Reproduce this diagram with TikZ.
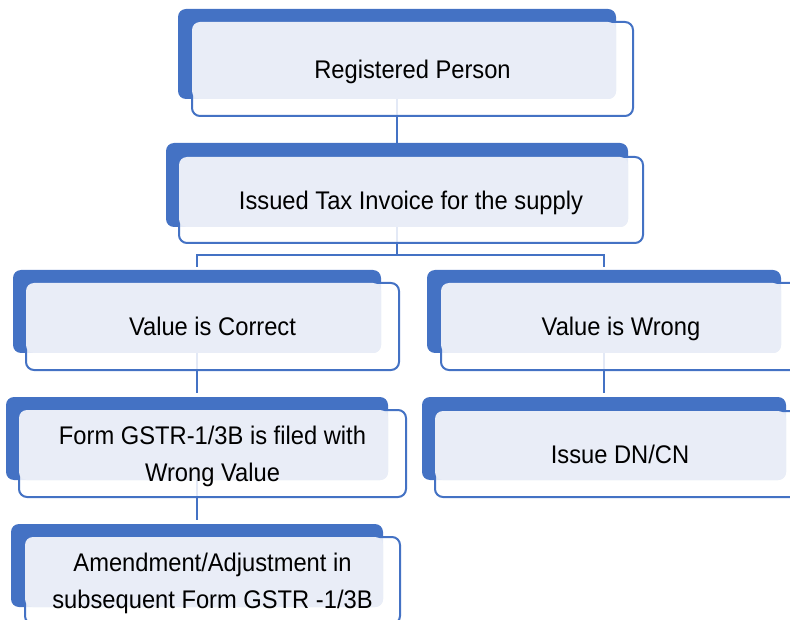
\documentclass[tikz,border=0pt]{standalone}
\usepackage{fontspec}
\setmainfont[FakeStretch=0.93]{Liberation Sans}
\usepackage{tikz}
\usetikzlibrary{positioning}
\definecolor{boxblue}{HTML}{4472C4}
\definecolor{boxfill}{HTML}{E9EDF7}
\tikzstyle{backbox} = [rectangle, rounded corners=8pt, fill=boxblue, inner sep=0pt, outer sep=0pt]
\tikzstyle{frontbox} = [rectangle, rounded corners=8pt, draw=boxblue, line width=2pt, fill=white, fill opacity=0.85, inner sep=0pt, outer sep=0pt, anchor=north west]
\tikzstyle{lightfill} = [fill=boxfill, rounded corners=8pt]
\tikzstyle{label} = [align=center, font=\fontsize{25.5}{37}\selectfont, text=black, yshift=-3pt]
\tikzstyle{oneline} = [label, text height=18.5pt, text depth=5.5pt]
\tikzstyle{conn} = [draw=boxblue, line width=2pt]

\begin{document}
\begin{tikzpicture}[x=1pt, y=-1pt]
                    \path[use as bounding box] (0,0) rectangle (790,620);
                    \clip (0,0) rectangle (790,620);
                    \node [backbox, minimum width=438pt, minimum height=90pt] (rp-b) at (397,54) {};
                    \node [backbox, minimum width=462pt, minimum height=84pt] (inv-b) at (397,185) {};
                    \node [backbox, minimum width=368pt, minimum height=83pt] (vc-b) at (197,311.5) {};
                    \node [backbox, minimum width=354pt, minimum height=83pt] (vw-b) at (604,311.5) {};
                    \node [backbox, minimum width=382pt, minimum height=83pt] (gstr-b) at (197,438.5) {};
                    \node [backbox, minimum width=372pt, minimum height=83pt] (amd-b) at (197,565.5) {};
                    \node [backbox, minimum width=364pt, minimum height=83pt] (dncn-b) at (604,438.5) {};
                    \coordinate (split) at (397,255);
                    \draw [conn] (rp-b.south) -- (inv-b.north);
                    \draw [conn] (inv-b.south) -- (split);
                    \draw [conn, shorten <=3pt] (vc-b.north) |- (split);
                    \draw [conn, shorten >=3pt] (split) -| (vw-b.north);
                    \draw [conn, shorten >=4pt] (vc-b.south) -- (gstr-b.north);
                    \draw [conn, shorten >=4pt] (vw-b.south) -- (dncn-b.north);
                    \draw [conn, shorten >=4pt] (gstr-b.south) -- (amd-b.north);
                    \node [frontbox, minimum width=441pt, minimum height=94pt] (rp) at ([xshift=14pt, yshift=-13pt]rp-b.north west) {};
                    \node [frontbox, minimum width=464pt, minimum height=86pt] (inv) at ([xshift=13pt, yshift=-14pt]inv-b.north west) {};
                    \node [frontbox, minimum width=373pt, minimum height=87pt] (vc) at ([xshift=13pt, yshift=-13pt]vc-b.north west) {};
                    \node [frontbox, minimum width=360pt, minimum height=87pt] (vw) at ([xshift=14pt, yshift=-13pt]vw-b.north west) {};
                    \node [frontbox, minimum width=387pt, minimum height=87pt] (gstr) at ([xshift=13pt, yshift=-13pt]gstr-b.north west) {};
                    \node [frontbox, minimum width=375pt, minimum height=87pt] (amd) at ([xshift=14pt, yshift=-13pt]amd-b.north west) {};
                    \node [frontbox, minimum width=370pt, minimum height=86pt] (dncn) at ([xshift=13pt, yshift=-14pt]dncn-b.north west) {};
                    \fill [lightfill] (rp.north west) rectangle (rp-b.south east);
                    \fill [lightfill] (inv.north west) rectangle (inv-b.south east);
                    \fill [lightfill] (vc.north west) rectangle (vc-b.south east);
                    \fill [lightfill] (vw.north west) rectangle (vw-b.south east);
                    \fill [lightfill] (gstr.north west) rectangle (gstr-b.south east);
                    \fill [lightfill] (amd.north west) rectangle (amd-b.south east);
                    \fill [lightfill] (dncn.north west) rectangle (dncn-b.south east);
                    \node [oneline] (rp-t) at (rp) {Registered Person};
                    \node [oneline] (inv-t) at (inv) {Issued Tax Invoice for the supply};
                    \node [oneline] (vc-t) at (vc) {Value is Correct};
                    \node [oneline] (vw-t) at (vw) {Value is Wrong};
                    \node [label] (gstr-t) at (gstr) {Form GSTR-1/3B is filed with\\Wrong Value};
                    \node [label] (amd-t) at (amd) {Amendment/Adjustment in\\subsequent Form GSTR -1/3B};
                    \node [oneline] (dncn-t) at (dncn) {Issue DN/CN};
                \end{tikzpicture}
\end{document}
